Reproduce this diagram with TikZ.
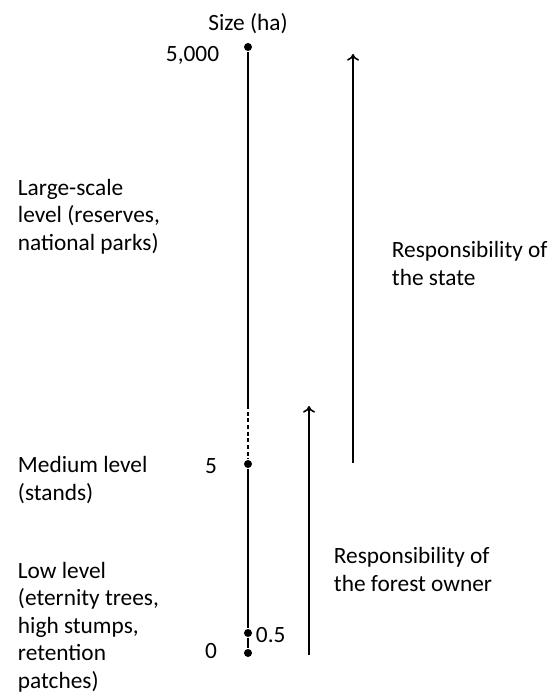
\documentclass[tikz,border=0pt]{standalone}
\usepackage{fontspec}
\setmainfont{Carlito}
\usetikzlibrary{arrows,arrows.meta}

\begin{document}
\begin{tikzpicture}[x=0.75pt,y=-0.75pt,line width=1.4pt,
every node/.style={font=\fontsize{17.5}{20.6}\selectfont,inner sep=0pt,align=left},
sizedot/.style={circle,fill,minimum size=6pt},
lbl/.style={anchor=base west},
rise/.style={-{To[length=5pt,width=9pt]},line width=1.2pt}]
\useasboundingbox (0,0) rectangle (554,695);
% size axis
\node[sizedot] (n5000) at (248,47) {};
\node[sizedot] (n5) at (248,464) {};
\node[sizedot] (nhalf) at (248,633) {};
\node[sizedot] (nzero) at (248,653) {};
\coordinate (dashtop) at (248,405);
\draw (n5000) -- (dashtop);
\draw[dash pattern=on 3pt off 2pt] (dashtop) -- (n5);
\draw (n5) -- (nhalf) -- (nzero);
\node[anchor=base] (title) at (248,31) {Size (ha)};
\node[anchor=base east] (v5000) at (220,62) {5,000};
\node[anchor=base east] (v5) at (218,473) {5};
\node[anchor=base west] (vhalf) at (255,642) {0.5};
\node[anchor=base east] (vzero) at (218,658) {0};
% levels (base = last line)
\node[lbl] (large) at (17,250) {Large-scale\\level (reserves,\\national parks)};
\node[lbl] (medium) at (17,500) {Medium level\\(stands)};
\node[lbl] (low) at (17,688) {Low level\\(eternity trees,\\high stumps,\\retention\\patches)};
% responsibilities
\coordinate (stateb) at (353,463);
\coordinate (statet) at (353,54);
\coordinate (ownerb) at (309,655);
\coordinate (ownert) at (309,406);
\draw[rise] (stateb) -- (statet);
\draw[rise] (ownerb) -- (ownert);
\node[lbl] (state) at (391,285) {Responsibility of\\the state};
\node[lbl] (owner) at (333,591) {Responsibility of\\the forest owner};
\end{tikzpicture}
\end{document}
